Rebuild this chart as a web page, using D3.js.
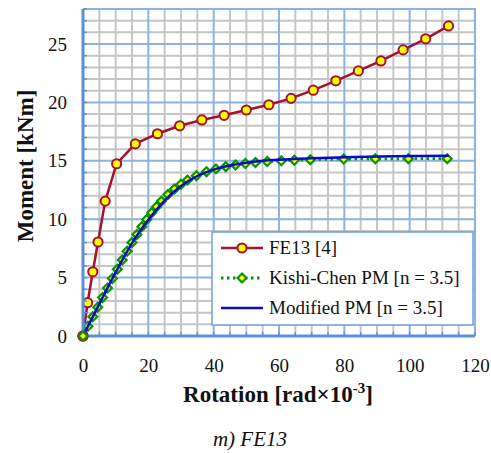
<!DOCTYPE html>
<html>
<head>
<meta charset="utf-8">
<script src="https://cdn.jsdelivr.net/npm/d3@7"></script>
<style>
	body { margin: 0; background: #fff; }
	svg { display: block; }
</style>
</head>
<body>
<svg id="chart" width="491" height="453"></svg>
<script>
// tick labels
const xTicks = [0, 20, 40, 60, 80, 100, 120];
const yTicks = [0, 5, 10, 15, 20, 25];

// FE13 [4]
const fe13Rot = [0, 1.4, 3.0, 4.6, 6.8, 10.3, 16.0, 22.8, 29.6, 36.4, 43.2, 50.0, 56.9, 63.7, 70.5, 77.4, 84.3, 91.2, 98.0, 104.9, 111.9];
const fe13Mom = [0, 2.85, 5.5, 8.05, 11.55, 14.75, 16.45, 17.32, 18.0, 18.5, 18.9, 19.35, 19.8, 20.35, 21.05, 21.85, 22.7, 23.55, 24.5, 25.45, 26.55];

// Kishi-Chen PM [n = 3.5]
const kcRot = [0, 1.5, 3, 4.5, 6, 7.5, 9, 10.5, 12, 13.5, 15, 16.5, 18, 19.5, 21, 22.5, 24, 26, 28, 30, 32, 34.7, 37.8, 40.7, 43.7, 46.7, 49.7, 52.8, 56.4, 60.7, 64.7, 69.6, 79.8, 89.5, 99.6, 111.5];
const kcMom = [0, 0.83, 1.65, 2.47, 3.3, 4.11, 4.92, 5.72, 6.5, 7.26, 8.0, 8.7, 9.36, 9.98, 10.55, 11.07, 11.55, 12.11, 12.59, 13.0, 13.35, 13.73, 14.07, 14.31, 14.5, 14.65, 14.77, 14.86, 14.94, 15.0, 15.05, 15.1, 15.15, 15.17, 15.18, 15.18];

// Modified PM [n = 3.5]
const mpmRot = [0, 2, 5, 10, 15, 20, 25, 30, 35, 40, 45, 50, 55, 60, 70, 80, 90, 100, 112];
const mpmMom = [0, 1.1, 2.75, 5.45, 7.95, 9.95, 11.6, 12.85, 13.7, 14.25, 14.6, 14.84, 15.0, 15.1, 15.22, 15.3, 15.36, 15.41, 15.44];

const seriesNames = ["FE13 [4]", "Kishi-Chen PM [n = 3.5]", "Modified PM [n = 3.5]"];

const RED = "#a5112e", GREEN = "#07930c", BLUE = "#0a0acc", YEL = "#ffff00";
const MINOR = "#c6c6c6", MAJOR = "#8db3e2", AXIS = "#5b8fd6";
const FONT = "'Liberation Serif', 'Times New Roman', serif";

const svg = d3.select("#chart");

const x = d3.scaleLinear().domain([0, 120]).range([83, 475]);
const y = d3.scaleLinear().domain([0, 28]).range([336, 9]);

//--------------------------------------------------------------------------
// grid
const grid = svg.append("g");
grid.selectAll(".gx")
	.data(d3.range(5, 120, 5).filter(d => d % 20 !== 0))
	.enter().append("line")
	.attr("x1", d => x(d)).attr("x2", d => x(d))
	.attr("y1", y(0)).attr("y2", y(28))
	.attr("stroke", MINOR).attr("stroke-width", 2);
grid.selectAll(".gy")
	.data(d3.range(1, 28, 1).filter(d => d % 5 !== 0))
	.enter().append("line")
	.attr("y1", d => y(d)).attr("y2", d => y(d))
	.attr("x1", x(0)).attr("x2", x(120))
	.attr("stroke", MINOR).attr("stroke-width", 2);
grid.selectAll(".gym")
	.data(yTicks.slice(1))
	.enter().append("line")
	.attr("y1", d => y(d)).attr("y2", d => y(d))
	.attr("x1", x(0)).attr("x2", x(120))
	.attr("stroke", MAJOR).attr("stroke-width", 2);
grid.selectAll(".gxm")
	.data(xTicks.slice(1, -1))
	.enter().append("line")
	.attr("x1", d => x(d)).attr("x2", d => x(d))
	.attr("y1", y(0)).attr("y2", y(28))
	.attr("stroke", MAJOR).attr("stroke-width", 2);

// top / right border
svg.append("path")
	.attr("d", "M" + x(0) + "," + y(28) + "H" + x(120) + "V" + y(0))
	.attr("fill", "none").attr("stroke", MAJOR).attr("stroke-width", 2);

//--------------------------------------------------------------------------
// series
const lineGen = d3.line().x(d => x(d[0])).y(d => y(d[1]));
const fe13 = d3.zip(fe13Rot, fe13Mom);
const kc = d3.zip(kcRot, kcMom);
const mpm = d3.zip(mpmRot, mpmMom);

svg.append("path").datum(fe13)
	.attr("d", lineGen)
	.attr("fill", "none").attr("stroke", RED).attr("stroke-width", 2.5);
svg.selectAll(".fe13-pt")
	.data(fe13).enter().append("circle")
	.attr("cx", d => x(d[0])).attr("cy", d => y(d[1]))
	.attr("r", 4.6)
	.attr("fill", YEL).attr("stroke", RED).attr("stroke-width", 2);

const diamond = d3.symbol().type(d3.symbolDiamond2).size(50);
svg.append("path").datum(kc)
	.attr("d", lineGen)
	.attr("fill", "none").attr("stroke", GREEN).attr("stroke-width", 2.8)
	.attr("stroke-dasharray", "2.5,3.5");
svg.selectAll(".kc-pt")
	.data(kc).enter().append("path")
	.attr("d", diamond)
	.attr("transform", d => "translate(" + x(d[0]) + "," + y(d[1]) + ")")
	.attr("fill", YEL).attr("stroke", GREEN).attr("stroke-width", 2.2);

svg.append("path").datum(mpm)
	.attr("d", lineGen.curve(d3.curveMonotoneX))
	.attr("fill", "none").attr("stroke", BLUE).attr("stroke-width", 2.5);

//--------------------------------------------------------------------------
// legend
const lg = svg.append("g").attr("transform", "translate(212,232)");
lg.append("rect")
	.attr("width", 261).attr("height", 93)
	.attr("fill", "#fff").attr("stroke", "#6f9edb").attr("stroke-width", 1.5);
const rows = lg.selectAll(".lg-row")
	.data(seriesNames).enter().append("g")
	.attr("transform", (d, i) => "translate(0," + (16 + i * 30) + ")");
rows.append("line")
	.attr("x1", 9).attr("x2", 51)
	.attr("stroke", (d, i) => [RED, GREEN, BLUE][i])
	.attr("stroke-width", (d, i) => i === 1 ? 2.8 : 2.5)
	.attr("stroke-dasharray", (d, i) => i === 1 ? "2.5,3.5" : null);
rows.filter((d, i) => i === 0).append("circle")
	.attr("cx", 30).attr("r", 4.6)
	.attr("fill", YEL).attr("stroke", RED).attr("stroke-width", 2);
rows.filter((d, i) => i === 1).append("path")
	.attr("d", diamond).attr("transform", "translate(30,0)")
	.attr("fill", YEL).attr("stroke", GREEN).attr("stroke-width", 2.2);
rows.append("text")
	.attr("x", 57).attr("dy", "0.34em")
	.attr("font-family", FONT).attr("font-size", 19)
	.attr("fill", "#111")
	.text(d => d);

//--------------------------------------------------------------------------
// axes
const xAxis = svg.append("g")
	.attr("transform", "translate(0," + y(0) + ")")
	.call(d3.axisBottom(x).tickValues(xTicks).tickSize(0).tickPadding(23));
const yAxis = svg.append("g")
	.attr("transform", "translate(" + x(0) + ",0)")
	.call(d3.axisLeft(y).tickValues(yTicks).tickSize(0).tickPadding(16));
[xAxis, yAxis].forEach(function(a) {
	a.select(".domain").remove();
	a.selectAll("text")
		.attr("font-family", FONT).attr("font-size", 19).attr("fill", "#111");
});

// inner tick marks
svg.selectAll(".xt")
	.data(d3.range(5, 125, 5)).enter().append("line")
	.attr("x1", d => x(d)).attr("x2", d => x(d))
	.attr("y1", y(0)).attr("y2", y(0) - 4)
	.attr("stroke", AXIS).attr("stroke-width", 1.4);
svg.selectAll(".yt")
	.data(d3.range(1, 29, 1)).enter().append("line")
	.attr("y1", d => y(d)).attr("y2", d => y(d))
	.attr("x1", x(0)).attr("x2", x(0) + 4)
	.attr("stroke", AXIS).attr("stroke-width", 1.4);

svg.append("path")
	.attr("d", "M" + x(0) + "," + y(28) + "V" + y(0) + "H" + x(120))
	.attr("fill", "none").attr("stroke", AXIS).attr("stroke-width", 3);

// origin markers sit on top of the axis
svg.append("circle")
	.attr("cx", x(0)).attr("cy", y(0)).attr("r", 4.6)
	.attr("fill", YEL).attr("stroke", RED).attr("stroke-width", 2);
svg.append("path")
	.attr("d", diamond).attr("transform", "translate(" + x(0) + "," + y(0) + ")")
	.attr("fill", YEL).attr("stroke", GREEN).attr("stroke-width", 2.2);

//--------------------------------------------------------------------------
// titles
const xt = svg.append("text")
	.attr("x", 278).attr("y", 402)
	.attr("text-anchor", "middle")
	.attr("font-family", FONT).attr("font-size", 23).attr("font-weight", "bold")
	.attr("fill", "#111");
xt.append("tspan").text("Rotation [rad×10");
xt.append("tspan").attr("font-size", 15).attr("dy", -9).text("-3");
xt.append("tspan").attr("dy", 9).text("]");

svg.append("text")
	.attr("transform", "translate(33,166) rotate(-90)")
	.attr("text-anchor", "middle")
	.attr("font-family", FONT).attr("font-size", 23).attr("font-weight", "bold")
	.attr("fill", "#111")
	.text("Moment [kNm]");

svg.append("text")
	.attr("x", 250).attr("y", 446)
	.attr("text-anchor", "middle")
	.attr("font-family", FONT).attr("font-size", 21).attr("font-style", "italic")
	.attr("fill", "#111")
	.text("m) FE13");
</script>
</body>
</html>
